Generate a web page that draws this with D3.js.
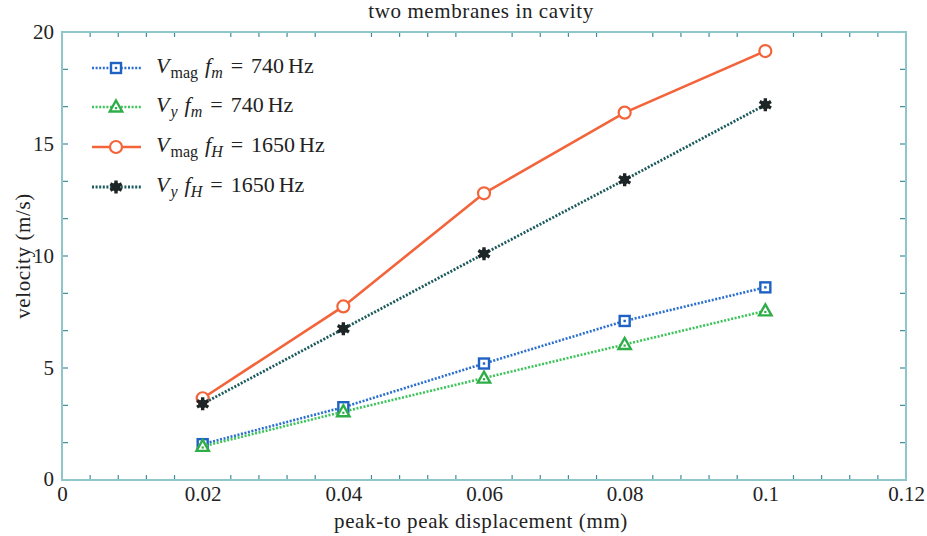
<!DOCTYPE html>
<html>
<head>
<meta charset="utf-8">
<script src="https://cdn.jsdelivr.net/npm/d3@7"></script>
<style>
  html, body { margin: 0; padding: 0; background: #fff; }
  svg { display: block; }
</style>
</head>
<body>
<svg id="chart" width="927" height="536"></svg>
<script>
// Peak-to-peak displacement (mm)
const displacement = [0.02, 0.04, 0.06, 0.08, 0.1];

// Velocity series (m/s)
const vmagLow  = [1.6, 3.25, 5.2, 7.1, 8.6];      // V_mag, f_m = 740 Hz
const vyLow    = [1.5, 3.05, 4.55, 6.05, 7.55];   // V_y,   f_m = 740 Hz
const vmagHigh = [3.65, 7.75, 12.8, 16.4, 19.15]; // V_mag, f_H = 1650 Hz
const vyHigh   = [3.4, 6.75, 10.1, 13.4, 16.75];  // V_y,   f_H = 1650 Hz

const xTicks = [0, 0.02, 0.04, 0.06, 0.08, 0.1, 0.12];
const xTickLabels = ["0", "0.02", "0.04", "0.06", "0.08", "0.1", "0.12"];
const yTicks = [0, 5, 10, 15, 20];
const yTickLabels = ["0", "5", "10", "15", "20"];

const FONT = "Liberation Serif";

// legend label pieces: [text, style, extra spacing before]
function mathLabel(sym, symSub, symSubItalic, freqSub, value) {
  return [
    [sym, "i", 0], [symSub, symSubItalic ? "subi" : "sub", 1],
    ["f", "i", 7], [freqSub, "subi", 0],
    ["=", "", 8], [value, "", 8], ["Hz", "", 4]
  ];
}

const series = [
  { values: vmagLow,  color: "#1f62c4", lineColor: "#2a6fd0", dash: "2,1.6", width: 2.6, marker: "square",
    label: mathLabel("V", "mag", false, "m", "740") },
  { values: vyLow,    color: "#2fae48", lineColor: "#3cc45a", dash: "2,1.6", width: 2.6, marker: "triangle",
    label: mathLabel("V", "y", true, "m", "740") },
  { values: vmagHigh, color: "#f3643a", lineColor: "#f3643a", dash: null, width: 2.6, marker: "circle",
    label: mathLabel("V", "mag", false, "H", "1650") },
  { values: vyHigh,   color: "#1e2526", lineColor: "#1b5a5c", dash: "2,1.6", width: 2.8, marker: "star",
    label: mathLabel("V", "y", true, "H", "1650") }
];

const svg = d3.select("#chart");
const margin = { left: 62, right: 21, top: 32, bottom: 56 };
const W = 927, H = 536;
const x = d3.scaleLinear().domain([0, 0.12]).range([margin.left, W - margin.right]);
const y = d3.scaleLinear().domain([0, 20]).range([H - margin.bottom, margin.top]);

const frameColor = "#8ec6ca";
const tickColor = "#3d8f99";

// minor ticks on all four sides
const g = svg.append("g");
const xMinor = d3.range(0, 0.1201, 0.004).filter(v => Math.abs(v / 0.02 - Math.round(v / 0.02)) > 1e-6);
const yMinor = d3.range(0, 20.01, 5 / 3);
g.selectAll(".xb").data(xMinor).join("line")
  .attr("x1", d => x(d)).attr("x2", d => x(d))
  .attr("y1", y(0)).attr("y2", y(0) - 5)
  .attr("stroke", tickColor).attr("stroke-width", 1.2);
g.selectAll(".xt").data(xMinor).join("line")
  .attr("x1", d => x(d)).attr("x2", d => x(d))
  .attr("y1", y(20)).attr("y2", y(20) + 5)
  .attr("stroke", tickColor).attr("stroke-width", 1.2);
g.selectAll(".yl").data(yMinor).join("line")
  .attr("x1", x(0)).attr("x2", x(0) + 6)
  .attr("y1", d => y(d)).attr("y2", d => y(d))
  .attr("stroke", tickColor).attr("stroke-width", 1.2);
g.selectAll(".yr").data(yMinor).join("line")
  .attr("x1", x(0.12)).attr("x2", x(0.12) - 6)
  .attr("y1", d => y(d)).attr("y2", d => y(d))
  .attr("stroke", tickColor).attr("stroke-width", 1.2);

// plot frame
svg.append("rect")
  .attr("x", x(0)).attr("y", y(20))
  .attr("width", x(0.12) - x(0)).attr("height", y(0) - y(20))
  .attr("fill", "none").attr("stroke", frameColor).attr("stroke-width", 2);

// tick labels
const xAxis = d3.axisBottom(x).tickValues(xTicks).tickSize(0).tickPadding(6)
  .tickFormat((d, i) => xTickLabels[i]);
const xg = svg.append("g").attr("transform", `translate(0,${y(0)})`).call(xAxis)
  .attr("font-family", FONT).attr("font-size", 21);
xg.select(".domain").remove();
xg.selectAll("text").attr("fill", "#222");

const yAxis = d3.axisLeft(y).tickValues(yTicks).tickSize(0).tickPadding(8)
  .tickFormat((d, i) => yTickLabels[i]);
const yg = svg.append("g").attr("transform", `translate(${x(0)},0)`).call(yAxis)
  .attr("font-family", FONT).attr("font-size", 21);
yg.select(".domain").remove();
yg.selectAll("text").attr("fill", "#222");
yg.selectAll(".tick").filter(d => d === 0).select("text").attr("dy", "0.25em");

// titles
svg.append("text").attr("x", (x(0) + x(0.12)) / 2 - 3).attr("y", 18)
  .attr("text-anchor", "middle").attr("font-family", FONT).attr("font-size", 21)
  .attr("letter-spacing", 0.6).attr("fill", "#222")
  .text("two membranes in cavity");
svg.append("text").attr("x", (x(0) + x(0.12)) / 2 - 3).attr("y", 528)
  .attr("text-anchor", "middle").attr("font-family", FONT).attr("font-size", 21)
  .attr("letter-spacing", 0.6).attr("fill", "#222")
  .text("peak-to peak displacement (mm)");
svg.append("text").attr("transform", `translate(30,${(y(0) + y(20)) / 2}) rotate(-90)`)
  .attr("text-anchor", "middle").attr("font-family", FONT).attr("font-size", 21)
  .attr("letter-spacing", 0.6).attr("fill", "#222")
  .text("velocity (m/s)");

// markers
function drawMarker(sel, type, s) {
  if (type === "square") {
    sel.append("rect").attr("x", -5).attr("y", -5).attr("width", 10).attr("height", 10)
      .attr("fill", "#fff").attr("stroke", s.color).attr("stroke-width", 2.4);
    sel.append("rect").attr("x", -1.2).attr("y", -1.2).attr("width", 2.4).attr("height", 2.4).attr("fill", s.color);
  } else if (type === "triangle") {
    sel.append("path").attr("d", "M0,-6.5L6.2,4.5L-6.2,4.5Z")
      .attr("fill", "#fff").attr("stroke", s.color).attr("stroke-width", 2.4);
    sel.append("rect").attr("x", -1.1).attr("y", 0).attr("width", 2.2).attr("height", 2.2).attr("fill", s.color);
  } else if (type === "circle") {
    sel.append("circle").attr("r", 6).attr("fill", "#fff").attr("stroke", s.color).attr("stroke-width", 2.2);
  } else if (type === "star") {
    sel.append("path").attr("d", d3.symbol(d3.symbolAsterisk, 120)())
      .attr("fill", "none").attr("stroke", s.color).attr("stroke-width", 3.4);
    sel.append("circle").attr("r", 4.4).attr("fill", s.color);
  }
}

const line = d3.line().x(d => x(d[0])).y(d => y(d[1]));
series.forEach(s => {
  const pts = displacement.map((d, i) => [d, s.values[i]]);
  svg.append("path").datum(pts).attr("d", line)
    .attr("fill", "none").attr("stroke", s.lineColor).attr("stroke-width", s.width)
    .attr("stroke-dasharray", s.dash);
  pts.forEach(p => {
    const m = svg.append("g").attr("transform", `translate(${x(p[0])},${y(p[1])})`);
    drawMarker(m, s.marker, s);
  });
});

// legend
const legendRows = [68, 107, 147, 187];
series.forEach((s, i) => {
  const ly = legendRows[i];
  const lg = svg.append("g");
  lg.append("line").attr("x1", 92).attr("x2", 141).attr("y1", ly).attr("y2", ly)
    .attr("stroke", s.lineColor).attr("stroke-width", s.width).attr("stroke-dasharray", s.dash);
  const m = lg.append("g").attr("transform", `translate(116,${ly})`);
  drawMarker(m, s.marker, s);
  const t = lg.append("text").attr("x", 156).attr("y", ly + 5)
    .attr("font-family", FONT).attr("font-size", 22).attr("fill", "#222");
  let inSub = false;
  s.label.forEach(([txt, st, gap]) => {
    const sp = t.append("tspan").text(txt);
    const isSub = st === "sub" || st === "subi";
    if (st === "i" || st === "subi") sp.attr("font-style", "italic");
    if (isSub) sp.attr("font-size", 16);
    if (isSub && !inSub) sp.attr("dy", 5);
    if (!isSub && inSub) sp.attr("dy", -5);
    if (gap) sp.attr("dx", gap);
    inSub = isSub;
  });
});
</script>
</body>
</html>
